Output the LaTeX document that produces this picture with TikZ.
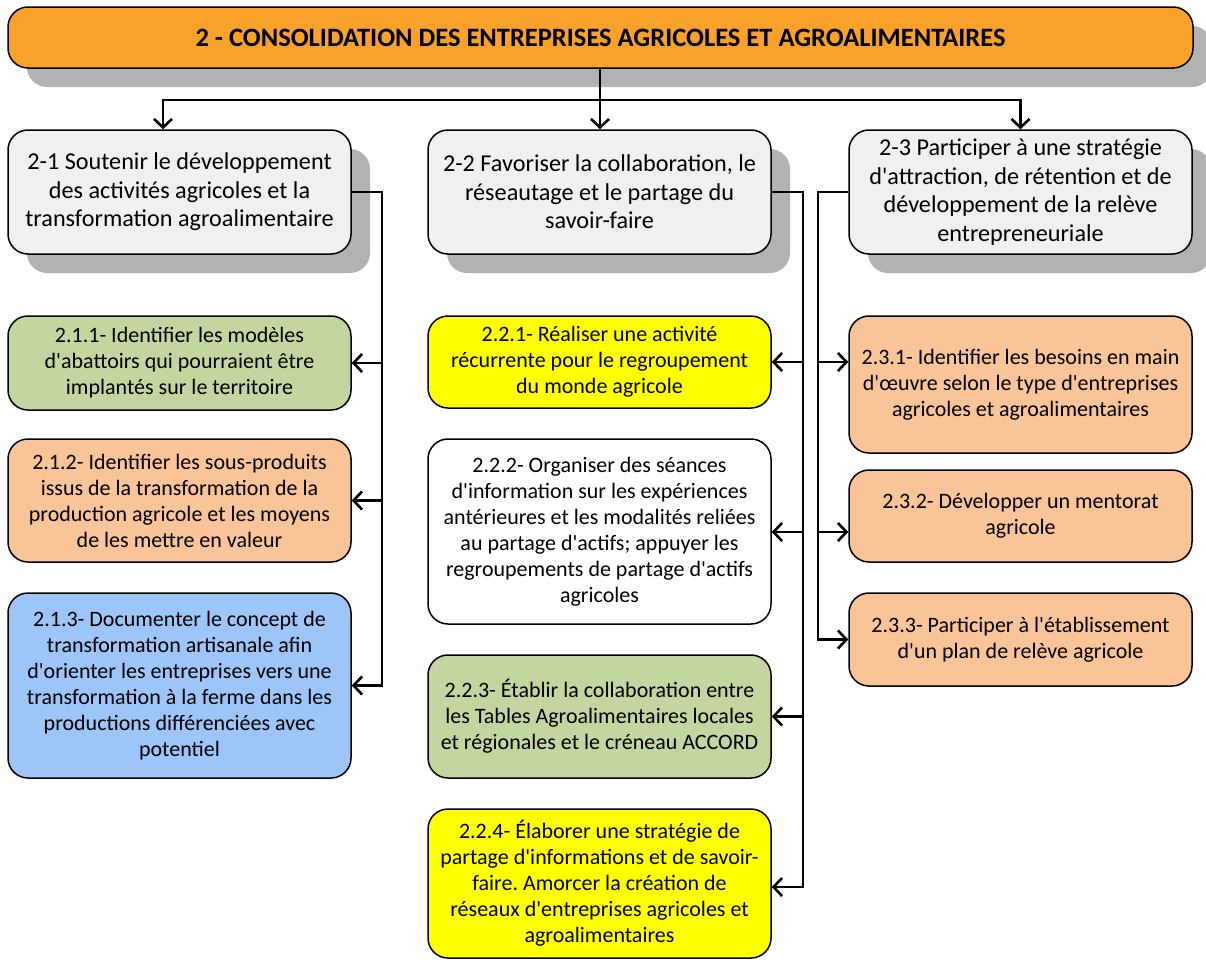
\documentclass[tikz,border=0pt]{standalone}
\usepackage{fontspec}
\setmainfont{Carlito}[Ligatures=TeXOff]
\usetikzlibrary{arrows.meta,shadows}
\frenchspacing
\definecolor{banorange}{RGB}{248,161,43}
\definecolor{shgray}{RGB}{178,178,178}
\definecolor{lgray}{RGB}{240,240,240}
\definecolor{bgreen}{RGB}{196,214,160}
\definecolor{bsalmon}{RGB}{249,196,152}
\definecolor{bblue}{RGB}{158,197,248}
\definecolor{byellow}{RGB}{255,255,0}
\tikzset{
  box/.style={draw=black, line width=1.5pt, rounded corners=20pt, align=center,
    inner sep=0pt, minimum width=343pt, font=\fontsize{22}{26}\selectfont\frenchspacing},
  mainbox/.style={box, fill=lgray, minimum height=124pt, font=\fontsize{24.2}{28.5}\selectfont,
    drop shadow={shadow xshift=19pt, shadow yshift=-19pt, opacity=1, fill=shgray}},
  line/.style={draw=black, line width=2.6pt},
  arr/.style={line, -{Straight Barb[length=8.5pt,width=18pt,line width=2.6pt]}}
}
\begin{document}
\begin{tikzpicture}[x=1pt,y=-1pt]
\useasboundingbox (0,0) rectangle (1206,961);
% banner
\node[box, fill=banorange, minimum width=1185pt, minimum height=61pt,
  font=\fontsize{26.5}{30}\selectfont\bfseries,
  drop shadow={shadow xshift=19pt, shadow yshift=-19pt, opacity=1, fill=shgray}]
  (ban) at (600.5,37.5) {2 - CONSOLIDATION DES ENTREPRISES AGRICOLES ET AGROALIMENTAIRES};
% level 2
\node[mainbox] (b21) at (179.5,192) {2-1 Soutenir le développement\\des activités agricoles et la\\transformation agroalimentaire};
\node[mainbox] (b22) at (599.5,192) {2-2 Favoriser la collaboration, le\\réseautage et le partage du\\savoir-faire};
\node[mainbox] (b23) at (1020.5,192) {2-3 Participer à une stratégie\\d'attraction, de rétention et de\\développement de la relève\\entrepreneuriale};
% column 1
\node[box, fill=bgreen, minimum height=94pt] (b211) at (179.5,363) {2.1.1- Identifier les modèles\\d'abattoirs qui pourraient être\\implantés sur le territoire};
\node[box, fill=bsalmon, minimum height=123pt] (b212) at (179.5,500.5) {2.1.2- Identifier les sous-produits\\issus de la transformation de la\\production agricole et les moyens\\de les mettre en valeur};
\node[box, fill=bblue, minimum height=185pt] (b213) at (179.5,685.5) {2.1.3- Documenter le concept de\\transformation artisanale afin\\d'orienter les entreprises vers une\\transformation à la ferme dans les\\productions différenciées avec\\potentiel};
% column 2
\node[box, fill=byellow, minimum height=92pt] (b221) at (599.5,362) {2.2.1- Réaliser une activité\\récurrente pour le regroupement\\du monde agricole};
\node[box, fill=white, minimum height=185pt] (b222) at (599.5,531.5) {2.2.2- Organiser des séances\\d'information sur les expériences\\antérieures et les modalités reliées\\au partage d'actifs; appuyer les\\regroupements de partage d'actifs\\agricoles};
\node[box, fill=bgreen, minimum height=123pt] (b223) at (599.5,716.5) {2.2.3- Établir la collaboration entre\\les Tables Agroalimentaires locales\\et régionales et le créneau ACCORD};
\node[box, fill=byellow, minimum height=149pt] (b224) at (599.5,883.5) {2.2.4- Élaborer une stratégie de\\partage d'informations et de savoir-\\faire. Amorcer la création de\\réseaux d'entreprises agricoles et\\agroalimentaires};
% column 3
\node[box, fill=bsalmon, minimum height=137pt] (b231) at (1020.5,384.5) {2.3.1- Identifier les besoins en main\\d'œuvre selon le type d'entreprises\\agricoles et agroalimentaires};
\node[box, fill=bsalmon, minimum height=92pt] (b232) at (1020.5,516) {2.3.2- Développer un mentorat\\agricole};
\node[box, fill=bsalmon, minimum height=93pt] (b233) at (1020.5,639.5) {2.3.3- Participer à l'établissement\\d'un plan de relève agricole};
% coordinates
\coordinate (hub) at (600,100);
\coordinate (t1) at (163,100);
\coordinate (s1) at (382,0);
\coordinate (s2) at (803,0);
\coordinate (s3) at (818,0);
\coordinate (r1) at (0,362);
\coordinate (r2) at (0,532);
\coordinate (r4) at (0,887);
% top connectors
\draw[line] (ban.south -| hub) -- (hub);
\draw[arr] (hub) -| (b21.north -| t1);
\draw[arr] (hub) -- (b22.north -| hub);
\draw[arr] (hub) -| (b23.north);
% column 1 connectors
\draw[arr] (b21.east) -| (s1 |- b213.east) -- (b213.east);
\draw[arr] (s1 |- b211.east) -- (b211.east);
\draw[arr] (s1 |- b212.east) -- (b212.east);
% column 2 connectors
\draw[arr] (b22.east) -| (s2 |- r4) -- (b224.east |- r4);
\draw[arr] (s2 |- b221.east) -- (b221.east);
\draw[arr] (s2 |- r2) -- (b222.east |- r2);
\draw[arr] (s2 |- b223.east) -- (b223.east);
% column 3 connectors
\draw[arr] (b23.west) -| (s3 |- b233.west) -- (b233.west);
\draw[arr] (s3 |- r1) -- (b231.west |- r1);
\draw[arr] (s3 |- r2) -- (b232.west |- r2);
\end{tikzpicture}
\end{document}
